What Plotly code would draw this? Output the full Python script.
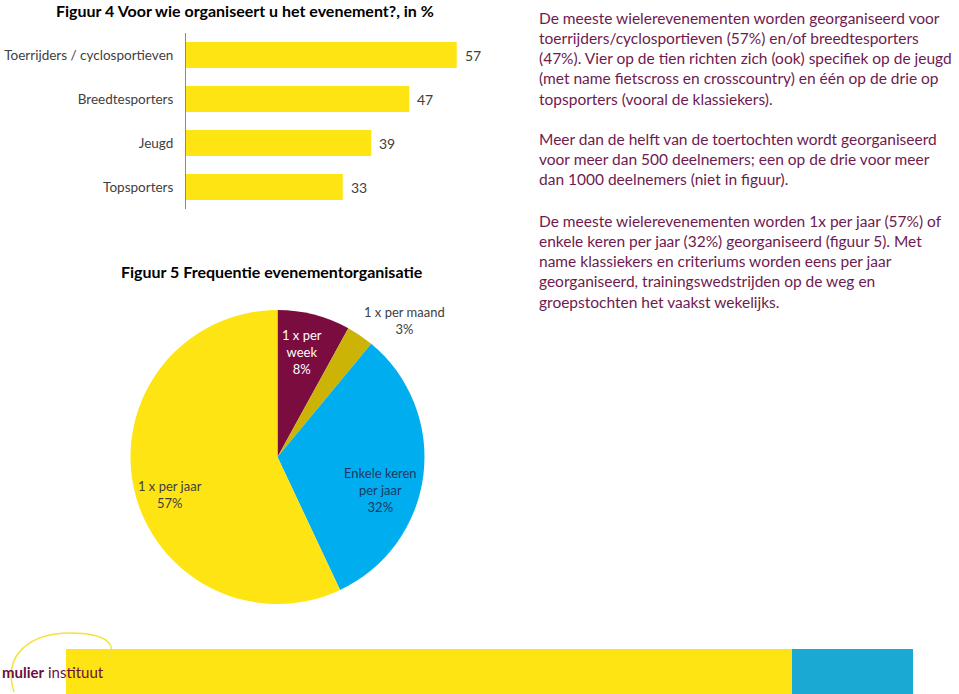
import plotly.graph_objects as go

W, H = 959, 694

def px(x):
    return x / W

def py(y):
    return 1 - y / H

# ---- data ----
bar_categories = ["Toerrijders / cyclosportieven", "Breedtesporters", "Jeugd", "Topsporters"]
bar_values = [57, 47, 39, 33]

pie_labels = ["1 x per<br>week", "1 x per maand", "Enkele keren<br>per jaar", "1 x per jaar"]
pie_values = [8, 3, 32, 57]

title4 = "Figuur 4 Voor wie organiseert u het evenement?, in %"
title5 = "Figuur 5 Frequentie evenementorganisatie"

para1 = ["De meeste wielerevenementen worden georganiseerd voor",
         "toerrijders/cyclosportieven (57%) en/of breedtesporters",
         "(47%). Vier op de tien richten zich (ook) specifiek op de jeugd",
         "(met name fietscross en crosscountry) en één op de drie op",
         "topsporters (vooral de klassiekers)."]
para2 = ["Meer dan de helft van de toertochten wordt georganiseerd",
         "voor meer dan 500 deelnemers; een op de drie voor meer",
         "dan 1000 deelnemers (niet in figuur)."]
para3 = ["De meeste wielerevenementen worden 1x per jaar (57%) of",
         "enkele keren per jaar (32%) georganiseerd (figuur 5). Met",
         "name klassiekers en criteriums worden eens per jaar",
         "georganiseerd, trainingswedstrijden op de weg en",
         "groepstochten het vaakst wekelijks."]

YELLOW = "#FEE412"
MAROON = "#7A0C40"
GOLD = "#CBB406"
CYAN = "#00AEEF"
TXT = "#404040"
BODY = "#6E1A50"
FONT = "Lato, 'Open Sans', sans-serif"

fig = go.Figure()

fig.add_trace(go.Bar(
    x=bar_values, y=bar_categories, orientation="h",
    marker=dict(color=YELLOW, line=dict(width=0)),
    hoverinfo="skip", showlegend=False,
))

fig.add_trace(go.Pie(
    labels=pie_labels, values=pie_values, sort=False,
    direction="clockwise", rotation=0,
    marker=dict(colors=[MAROON, GOLD, CYAN, YELLOW], line=dict(width=0)),
    textinfo="none", hoverinfo="skip", showlegend=False,
    domain=dict(x=[px(130), px(425)], y=[py(604), py(310)]),
))

x_end_px = 500
fig.update_layout(
    width=W, height=H,
    margin=dict(l=0, r=0, t=0, b=0),
    paper_bgcolor="white", plot_bgcolor="white",
    bargap=0.41,
    font=dict(family=FONT, color=TXT),
    xaxis=dict(domain=[px(186), px(x_end_px)], range=[0, (x_end_px - 186) / 4.75],
               visible=False, fixedrange=True),
    yaxis=dict(domain=[py(209), py(33)], type="category",
               categoryorder="array", categoryarray=bar_categories,
               autorange="reversed", showline=True, linecolor="#8c8c8c", linewidth=1,
               ticks="", showgrid=False, tickfont=dict(size=13.5, color=TXT, family=FONT),
               ticklabelstandoff=9, fixedrange=True),
)

ann = []
# bar value labels
for c, v in zip(bar_categories, bar_values):
    ann.append(dict(x=v, y=c, xref="x", yref="y", text=str(v), showarrow=False,
                    xanchor="left", xshift=6, font=dict(size=14, color=TXT, family=FONT)))

# titles
ann.append(dict(x=px(245), y=py(11), xref="paper", yref="paper", text="<b>" + title4 + "</b>",
                showarrow=False, xanchor="center", yanchor="middle",
                font=dict(size=16, color="#000000", family=FONT)))
ann.append(dict(x=px(272), y=py(271), xref="paper", yref="paper", text="<b>" + title5 + "</b>",
                showarrow=False, xanchor="center", yanchor="middle",
                font=dict(size=16, color="#000000", family=FONT)))

# pie labels
pie_label_pos = [(302, 352, "white"), (404, 320, TXT), (380, 490, "#1F3864"), (170, 494, TXT)]
for lab, val, (lx, ly, col) in zip(pie_labels, pie_values, pie_label_pos):
    ann.append(dict(x=px(lx), y=py(ly), xref="paper", yref="paper",
                    text=f"{lab}<br>{val}%", showarrow=False, xanchor="center", yanchor="middle",
                    font=dict(size=13, color=col, family=FONT)))

# body text
for lines, ytop in [(para1, 7), (para2, 128), (para3, 210)]:
    ann.append(dict(x=px(537), y=py(ytop), xref="paper", yref="paper",
                    text="<br>".join(lines), showarrow=False, xanchor="left", yanchor="top",
                    align="left", font=dict(size=15.5, color=BODY, family=FONT)))

# logo text
ann.append(dict(x=px(0), y=py(672), xref="paper", yref="paper",
                text="<b>mulier</b> instituut", showarrow=False, xanchor="left", yanchor="middle",
                font=dict(size=15, color="#6B0F3F", family=FONT)))

fig.update_layout(annotations=ann)

shapes = [
    dict(type="rect", xref="paper", yref="paper", x0=px(66), x1=px(792), y0=py(694), y1=py(649),
         fillcolor=YELLOW, line=dict(width=0), layer="below"),
    dict(type="rect", xref="paper", yref="paper", x0=px(792), x1=px(913), y0=py(694), y1=py(649),
         fillcolor="#1AA9D3", line=dict(width=0), layer="below"),
    dict(type="path", xref="paper", yref="paper",
         path=(f"M {px(14)},{py(692)} C {px(2)},{py(655)} {px(30)},{py(633)} {px(70)},{py(633)} "
               f"C {px(112)},{py(633)} {px(116)},{py(648)} {px(108)},{py(658)}"),
         line=dict(color="#F3E23A", width=1.5)),
]
fig.update_layout(shapes=shapes)

fig.write_html("out.html", config={"displayModeBar": False},
               post_script="document.body.style.margin='0';")
